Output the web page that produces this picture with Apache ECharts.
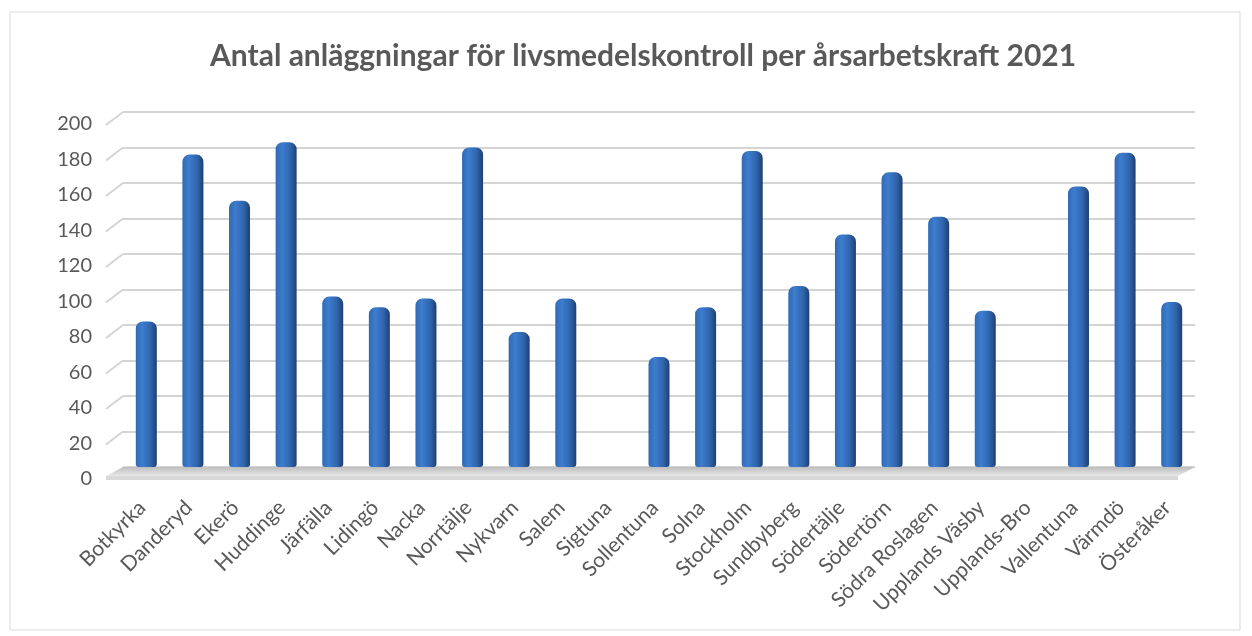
<!DOCTYPE html>
<html>
<head>
<meta charset="utf-8">
<script src="https://cdn.jsdelivr.net/npm/echarts@6/dist/echarts.min.js"></script>
<style>
  html, body { margin: 0; padding: 0; background: #fff; }
  #chart { width: 1252px; height: 636px; }
</style>
</head>
<body>
<div id="chart"></div>
<script>
const categories = [
  'Botkyrka', 'Danderyd', 'Ekerö', 'Huddinge', 'Järfälla', 'Lidingö', 'Nacka',
  'Norrtälje', 'Nykvarn', 'Salem', 'Sigtuna', 'Sollentuna', 'Solna', 'Stockholm',
  'Sundbyberg', 'Södertälje', 'Södertörn', 'Södra Roslagen', 'Upplands Väsby',
  'Upplands-Bro', 'Vallentuna', 'Värmdö', 'Österåker'
]
const values = [
  82, 176, 150, 183, 96, 90, 95,
  180, 76, 95, 0, 62, 90, 178,
  102, 131, 166, 141, 88,
  0, 158, 177, 93
]
const yTicks = [0, 20, 40, 60, 80, 100, 120, 140, 160, 180, 200]

const chart = echarts.init(document.getElementById('chart'))

const textColor = '#595959'
const font = 'Lato, "Open Sans", sans-serif'
const gridLeft = 123
const gridRight = 57

chart.setOption({
  animation: false,
  title: {
    text: 'Antal anläggningar för livsmedelskontroll per årsarbetskraft 2021',
    left: 205,
    top: 36,
    textStyle: { color: textColor, fontSize: 30, fontWeight: 'bold', fontFamily: font },
  },
  grid: { left: gridLeft, right: gridRight, top: 112, bottom: 169 },
  xAxis: {
    type: 'category',
    data: categories,
    axisLine: { show: false },
    axisTick: { show: false },
    axisLabel: {
      rotate: 45,
      interval: 0,
      color: textColor,
      fontSize: 21,
      fontFamily: font,
      margin: 33,
      padding: [0, 6, 0, 0],
    },
  },
  yAxis: {
    type: 'value',
    min: yTicks[0],
    max: yTicks[yTicks.length - 1],
    interval: 20,
    axisLine: { show: false },
    axisTick: { show: false },
    axisLabel: {
      color: textColor,
      fontSize: 20,
      fontFamily: font,
      margin: 31,
      verticalAlign: 'top',
      padding: [2, 0, 0, 0],
    },
    splitLine: { lineStyle: { color: '#d4d4d4', width: 2 } },
  },
  series: [
    {
      type: 'bar',
      data: values,
      barWidth: 21,
      z: 5,
      itemStyle: {
        borderRadius: [7, 7, 3, 3],
        color: new echarts.graphic.LinearGradient(0, 0, 1, 0, [
          { offset: 0, color: '#3069b2' },
          { offset: 0.3, color: '#3d7dcf' },
          { offset: 0.7, color: '#3065ad' },
          { offset: 1, color: '#1f3f70' },
        ]),
      },
    },
  ],
})

// side-wall edges and floor, placed from the axis scale
function decorate() {
  const w = chart.getWidth()
  const right = w - gridRight
  const els = [
    {
      type: 'rect',
      shape: { x: 10, y: 12, width: 1230, height: 618 },
      style: { fill: 'none', stroke: '#d9d9d9', lineWidth: 1 },
      silent: true,
    },
  ]
  yTicks.forEach((v) => {
    const y = chart.convertToPixel({ yAxisIndex: 0 }, v)
    if (v === 0) return
    els.push({
      type: 'line',
      shape: { x1: gridLeft - 17, y1: y + 13, x2: gridLeft, y2: y },
      style: { stroke: '#d4d4d4', lineWidth: 2 },
      silent: true,
    })
  })
  const y0 = chart.convertToPixel({ yAxisIndex: 0 }, 0)
  els.push({
    type: 'polygon',
    shape: { points: [[gridLeft, y0], [right, y0], [right - 17, y0 + 9], [gridLeft - 17, y0 + 9]] },
    style: {
      fill: new echarts.graphic.LinearGradient(0, 0, 0, 1, [
        { offset: 0, color: '#bdbdbd' },
        { offset: 1, color: '#e8e8e8' },
      ]),
    },
    z: 1,
    silent: true,
  })
  els.push({
    type: 'rect',
    shape: { x: gridLeft - 17, y: y0 + 9, width: right - gridLeft, height: 4 },
    style: { fill: '#d9d9d9' },
    z: 1,
    silent: true,
  })
  chart.setOption({ graphic: els })
}
decorate()
</script>
</body>
</html>
